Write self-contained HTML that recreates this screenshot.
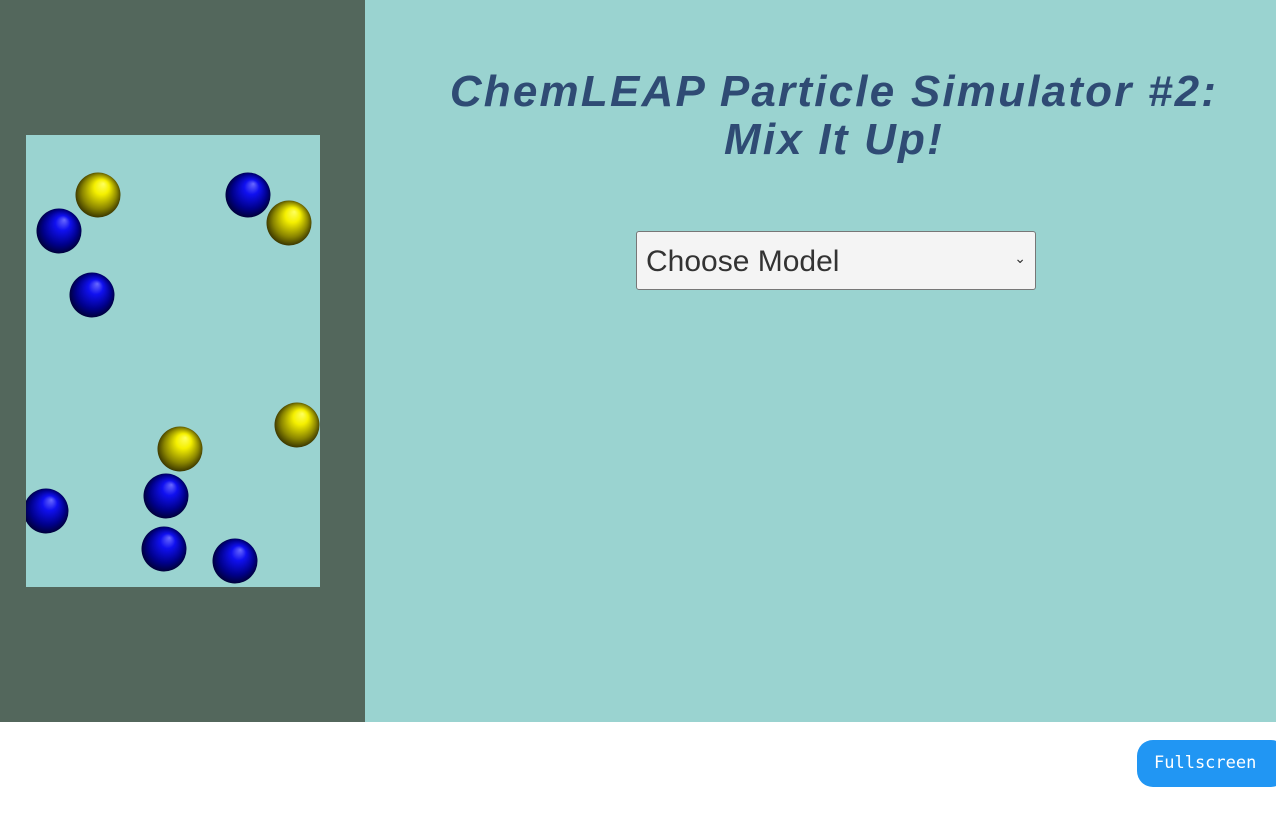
<!DOCTYPE html>
<html><head><meta charset="utf-8"><style>
body{margin:0;width:1276px;height:815px;background:#fff;position:relative;overflow:hidden;font-family:"Liberation Sans",sans-serif}
#left{position:absolute;left:0;top:0;width:365px;height:722px;background:#53675c}
#right{position:absolute;left:365px;top:0;width:911px;height:722px;background:#9ad3d0}
#title{position:absolute;left:378px;width:912px;top:68px;text-align:center;font-style:italic;font-weight:bold;font-size:44px;line-height:48px;color:#2f4b74;letter-spacing:2.2px;margin:0}
#sel{position:absolute;left:636px;top:231px;width:398px;height:57px;background:#f4f4f4;border:1px solid #777;border-radius:3px;font-size:30px;color:#333;box-sizing:content-box}
#sel span{position:absolute;left:9px;top:13px}
#sel i{position:absolute;right:9px;top:18px;font-style:normal;font-size:14px}
#fs{position:absolute;left:1137px;top:740px;width:150px;height:47px;background:#2196f3;border-radius:16px;color:#fff;font-family:"DejaVu Sans Mono","Liberation Mono",monospace;font-size:17px;line-height:47px;padding-left:17px;box-sizing:border-box}
</style></head><body>
<div id="left">
<svg width="365" height="722">
<defs>
<radialGradient id="gy" cx="0.5" cy="0.5" r="0.55" fx="0.62" fy="0.25"><stop offset="0" stop-color="#ffff60"/><stop offset="0.3" stop-color="#f5f000"/><stop offset="0.7" stop-color="#8a8500"/><stop offset="1" stop-color="#262300"/></radialGradient>
<radialGradient id="gb" cx="0.5" cy="0.5" r="0.55" fx="0.62" fy="0.25"><stop offset="0" stop-color="#6a6aff"/><stop offset="0.3" stop-color="#1010f0"/><stop offset="0.7" stop-color="#00008a"/><stop offset="1" stop-color="#000025"/></radialGradient>
<clipPath id="cb"><rect x="26" y="135" width="294" height="452"/></clipPath>
</defs>
<rect x="26" y="135" width="294" height="452" fill="#9ad3d0"/>
<g clip-path="url(#cb)" id="parts"></g>
</svg>
</div>
<div id="right"></div>
<h1 id="title">ChemLEAP Particle Simulator #2:<br>Mix It Up!</h1>
<div id="sel"><span>Choose Model</span><i>⌄</i></div>
<div id="fs">Fullscreen</div>
<script>
const px=[98,59,248,289,92,297,180,46,166,164,235];
const py=[195,231,195,223,295,425,449,511,496,549,561];
const kind=["y","b","b","y","b","y","y","b","b","b","b"];
const g=document.getElementById('parts');
for(let i=0;i<px.length;i++){
 const c=document.createElementNS('http://www.w3.org/2000/svg','circle');
 c.setAttribute('cx',px[i]);c.setAttribute('cy',py[i]);c.setAttribute('r',22.5);
 c.setAttribute('fill',kind[i]=='y'?'url(#gy)':'url(#gb)');
 
 
 g.appendChild(c);
}
</script>
</body></html>
